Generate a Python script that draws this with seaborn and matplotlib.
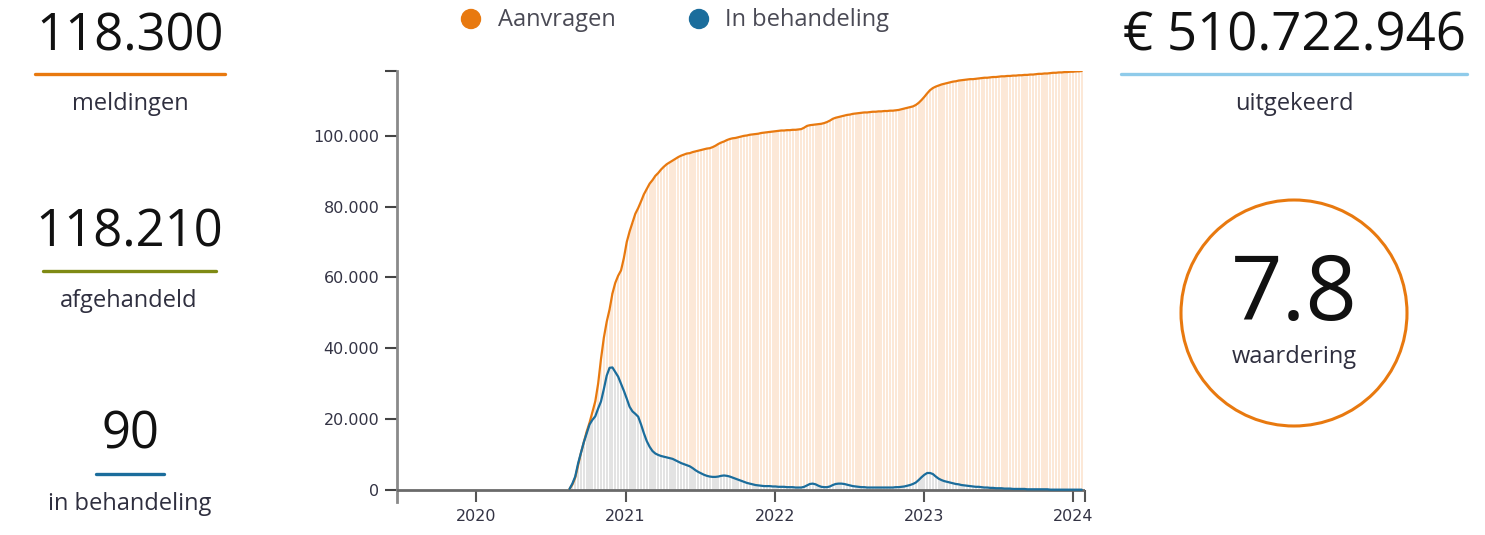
import numpy as np
import pandas as pd
import matplotlib
matplotlib.use("Agg")
import matplotlib.pyplot as plt
import matplotlib.dates as mdates
from matplotlib.ticker import FuncFormatter, FixedLocator
from matplotlib.patches import Circle
from matplotlib.lines import Line2D
import seaborn as sns

# ---------------- data (weekly, in thousands) ----------------
start_week = "2020-08-17"
aanvragen_k = [
    0.3, 1.5, 3.5, 7.0, 10.5, 13.5, 16.5, 19.0, 22.0, 25.0,
    30.0, 37.0, 43.0, 47.5, 51.0, 55.5, 58.5, 60.5, 62.0, 65.5,
    70.0, 73.0, 75.5, 78.0, 79.6, 81.5, 83.5, 85.0, 86.5, 87.5,
    88.7, 89.5, 90.5, 91.3, 92.0, 92.5, 93.0, 93.5, 94.0, 94.4,
    94.7, 95.0, 95.1, 95.4, 95.6, 95.8, 96.0, 96.2, 96.4, 96.5,
    96.8, 97.2, 97.7, 98.1, 98.4, 98.8, 99.1, 99.3, 99.4, 99.6,
    99.8, 100.0, 100.1, 100.3, 100.4, 100.5, 100.6, 100.8, 100.9, 101.0,
    101.1, 101.2, 101.3, 101.4, 101.5, 101.5, 101.6, 101.6, 101.7, 101.7,
    101.8, 101.9, 102.3, 102.8, 103.0, 103.1, 103.2, 103.3, 103.4, 103.6,
    103.9, 104.3, 104.8, 105.1, 105.3, 105.5, 105.7, 105.9, 106.0, 106.2,
    106.3, 106.4, 106.5, 106.6, 106.6, 106.7, 106.8, 106.8, 106.9, 106.9,
    107.0, 107.0, 107.1, 107.1, 107.2, 107.3, 107.5, 107.7, 107.9, 108.1,
    108.3, 108.7, 109.3, 110.1, 111.0, 112.0, 112.9, 113.5, 113.9, 114.2,
    114.5, 114.7, 114.9, 115.1, 115.3, 115.4, 115.6, 115.7, 115.8, 115.9,
    116.0, 116.0, 116.1, 116.2, 116.3, 116.4, 116.4, 116.5, 116.6, 116.6,
    116.7, 116.8, 116.8, 116.9, 116.9, 117.0, 117.0, 117.1, 117.1, 117.2,
    117.2, 117.3, 117.3, 117.4, 117.5, 117.5, 117.6, 117.6, 117.7, 117.8,
    117.8, 117.9, 117.9, 118.0, 118.0, 118.1, 118.1, 118.2, 118.2, 118.3,
]
behandeling_k = [
    0.3, 1.8, 3.8, 7.5, 10.5, 13.5, 16.0, 18.5, 19.8, 20.8,
    23.0, 25.0, 28.5, 32.3, 34.5, 34.6, 33.3, 32.0, 30.0, 28.0,
    25.8, 23.5, 22.2, 21.5, 20.7, 18.5, 16.0, 13.8, 12.2, 11.0,
    10.3, 9.9, 9.6, 9.4, 9.2, 9.0, 8.8, 8.4, 8.0, 7.6,
    7.3, 7.0, 6.7, 6.2, 5.6, 5.1, 4.7, 4.3, 4.0, 3.8,
    3.7, 3.7, 3.8, 4.0, 4.1, 4.0, 3.8, 3.5, 3.2, 2.9,
    2.6, 2.3, 2.0, 1.8, 1.6, 1.4, 1.3, 1.2, 1.1, 1.1,
    1.1, 1.0, 1.0, 0.9, 0.9, 0.9, 0.8, 0.8, 0.8, 0.7,
    0.7, 0.7, 0.9, 1.3, 1.7, 1.8, 1.6, 1.2, 0.9, 0.8,
    0.8, 1.0, 1.4, 1.7, 1.8, 1.8, 1.7, 1.5, 1.3, 1.1,
    1.0, 0.9, 0.8, 0.8, 0.7, 0.7, 0.7, 0.7, 0.7, 0.7,
    0.7, 0.7, 0.7, 0.7, 0.8, 0.8, 0.9, 1.0, 1.2, 1.4,
    1.7, 2.1, 2.8, 3.6, 4.3, 4.8, 4.8, 4.5, 3.8, 3.2,
    2.8, 2.5, 2.3, 2.1, 1.9, 1.7, 1.6, 1.4, 1.3, 1.2,
    1.1, 1.0, 0.9, 0.9, 0.8, 0.7, 0.7, 0.6, 0.6, 0.5,
    0.5, 0.5, 0.4, 0.4, 0.4, 0.3, 0.3, 0.3, 0.3, 0.3,
    0.2, 0.2, 0.2, 0.2, 0.2, 0.2, 0.2, 0.2, 0.1, 0.1,
    0.1, 0.1, 0.1, 0.1, 0.1, 0.1, 0.1, 0.1, 0.09, 0.09,
]
series_names = ["Aanvragen", "In behandeling"]
x_ticks_years = ["2020", "2021", "2022", "2023", "2024"]
y_ticks = [0, 20000, 40000, 60000, 80000, 100000]
y_max = 118300

kpi_left_values = ["118.300", "118.210", "90"]
kpi_left_labels = ["meldingen", "afgehandeld", "in behandeling"]
kpi_right_value = "€ 510.722.946"
kpi_right_label = "uitgekeerd"
rating_value = "7.8"
rating_label = "waardering"

# ---------------- styling ----------------
ORANGE = "#e8790f"
BLUE = "#1b6d9c"
ORANGE_BAR = "#fce8d7"
GREY_BAR = "#e3e3e3"
GREEN = "#7f8a14"
LIGHTBLUE = "#8fcbea"

W, H = 1485, 535
sns.set_theme(style="white")
plt.rcParams["font.family"] = ["DejaVu Sans"]

dates = pd.date_range(start_week, periods=len(aanvragen_k), freq="7D")
df = pd.DataFrame({
    "date": np.concatenate([dates, dates]),
    "value": np.concatenate([np.array(aanvragen_k) * 1000, np.array(behandeling_k) * 1000]),
    "series": [series_names[0]] * len(dates) + [series_names[1]] * len(dates),
})

fig = plt.figure(figsize=(W / 100, H / 100), dpi=100)


def fx(x):
    return x / W


def fy(y):
    return 1 - y / H


ax_left, ax_right, ax_top, ax_bot = 397, 1085, 71, 502
ax = fig.add_axes([fx(ax_left), fy(ax_bot), (ax_right - ax_left) / W, (ax_bot - ax_top) / H])

# bars
bar_w = pd.Timedelta(days=5.2)
ax.bar(dates, np.array(aanvragen_k) * 1000, width=bar_w, color=ORANGE_BAR, linewidth=0, zorder=1)
ax.bar(dates, np.array(behandeling_k) * 1000, width=bar_w, color=GREY_BAR, linewidth=0, zorder=2)

x0 = pd.Timestamp("2019-06-22")
x1 = pd.Timestamp("2024-01-30")
ax.axhline(0, color="#6a6a6a", lw=2, zorder=3)

sns.lineplot(data=df, x="date", y="value", hue="series", palette=[ORANGE, BLUE],
             linewidth=1.6, ax=ax, legend=False, zorder=4)
for ln in ax.lines[-2:]:
    ln.set_solid_capstyle("round")

ax.set_xlim(x0, x1)
y_bottom = -(ax_bot - 490) / (490 - ax_top) * y_max
ax.set_ylim(y_bottom, y_max)

ax.xaxis.set_major_locator(FixedLocator([mdates.date2num(pd.Timestamp(f"{y}-01-01")) for y in x_ticks_years]))
ax.xaxis.set_major_formatter(FuncFormatter(lambda v, p: mdates.num2date(v).strftime("%Y")))
ax.xaxis.set_minor_locator(FixedLocator([mdates.date2num(x1)]))
ax.yaxis.set_major_locator(FixedLocator(y_ticks))
ax.yaxis.set_major_formatter(FuncFormatter(lambda v, p: f"{v:,.0f}".replace(",", ".")))
ax.yaxis.set_minor_locator(FixedLocator([y_max]))

ax.set_xlabel("")
ax.set_ylabel("")
for s in ["top", "right", "bottom"]:
    ax.spines[s].set_visible(False)
ax.spines["left"].set_color("#8a8a8a")
ax.spines["left"].set_linewidth(2)

ax.tick_params(axis="x", which="both", direction="in", length=8.6, width=1.5, color="#555555",
               labelsize=11.5, labelcolor="#333344", pad=5, bottom=True)
ax.tick_params(axis="y", which="both", direction="out", length=8.6, width=1.5, color="#444444",
               labelsize=11.5, labelcolor="#333344", pad=4, left=True)
ax.set_facecolor("none")
ax.grid(False)

# ---------------- legend ----------------
legend_items = [(471, 498, series_names[0], ORANGE), (699, 725, series_names[1], BLUE)]
for cx, tx, name, col in legend_items:
    fig.patches.append(Circle((fx(cx) * W, fy(19) * H), 9.5, transform=None, color=col,
                              figure=fig))
    fig.text(fx(tx), fy(20), name, fontsize=17, color="#4a4a55", va="center", ha="left",
             family=["Open Sans", "DejaVu Sans"])

# ---------------- KPI blocks ----------------
num_font = ["Open Sans", "DejaVu Sans"]
lab_font = ["Open Sans", "DejaVu Sans"]
left_pos = [(130, 37, 74, 35, 225, ORANGE, 104),
            (129, 233, 271, 43, 216, GREEN, 301),
            (130, 435, 474, 96, 164, BLUE, 504)]
for (cx, vy, ly, lx0, lx1, col, ty), val, lab in zip(left_pos, kpi_left_values, kpi_left_labels):
    fig.text(fx(cx), fy(vy), val, fontsize=36.5, color="#111111", ha="center", va="center", family=num_font)
    fig.lines.append(Line2D([fx(lx0), fx(lx1)], [fy(ly), fy(ly)], transform=fig.transFigure,
                            color=col, lw=2.4, figure=fig))
    fig.text(fx(cx), fy(ty), lab, fontsize=17, color="#2f2f3f", ha="center", va="center", family=lab_font)

fig.text(fx(1294), fy(37), kpi_right_value, fontsize=38, color="#111111", ha="center", va="center",
         family=num_font)
fig.lines.append(Line2D([fx(1121), fx(1467)], [fy(74), fy(74)], transform=fig.transFigure,
                        color=LIGHTBLUE, lw=2.4, figure=fig))
fig.text(fx(1294), fy(104), kpi_right_label, fontsize=17, color="#2f2f3f", ha="center", va="center",
         family=lab_font)

fig.patches.append(Circle((1294, H - 313), 113, transform=None, fill=False, edgecolor=ORANGE,
                          lw=2.2, figure=fig))
fig.text(fx(1294), fy(297), rating_value, fontsize=65, color="#111111", ha="center", va="center",
         family=num_font)
fig.text(fx(1294), fy(357), rating_label, fontsize=17, color="#2f2f3f", ha="center", va="center",
         family=lab_font)

fig.savefig("out.png", dpi=100)
